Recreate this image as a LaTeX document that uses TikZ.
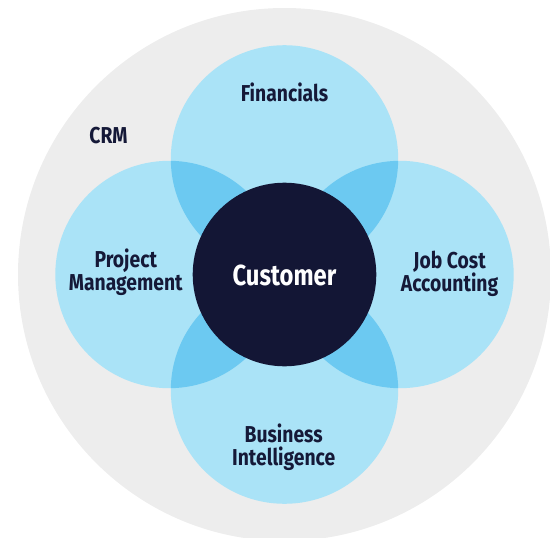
\documentclass[tikz,border=0pt]{standalone}
\usepackage{fontspec}
\newfontfamily\lblfont{Fira Sans}[FakeStretch=0.84]
\newfontfamily\corefont{Fira Sans}[FakeStretch=0.82]
\definecolor{crmgrey}{RGB}{237,237,237}
\definecolor{petal}{RGB}{170,227,247}
\definecolor{petallap}{RGB}{108,201,241}
\definecolor{core}{RGB}{19,22,53}
\definecolor{ink}{RGB}{21,25,56}
\tikzset{
  lbl/.style={text=ink, align=center, inner sep=0pt, anchor=base,
    font=\lblfont\bfseries\fontsize{23}{23.5}\selectfont},
  corelbl/.style={text=white, inner sep=0pt, anchor=base,
    font=\corefont\bfseries\fontsize{29}{32}\selectfont},
}
\begin{document}
\begin{tikzpicture}[x=1pt, y=-1pt]
  \clip (0,0) rectangle (550,538);
  % outer CRM disc
  \fill[crmgrey] (284.5,274.5) circle (266.5);
  % four petals around the centre
  \def\pr{113.7}
  \coordinate (ctop) at (284.5,158.9);
  \coordinate (cleft) at (169.0,274.5);
  \coordinate (cright) at (400.0,274.5);
  \coordinate (cbot) at (284.5,390.1);
  \fill[petal] (ctop) circle (\pr);
  \fill[petal] (cleft) circle (\pr);
  \fill[petal] (cright) circle (\pr);
  \fill[petal] (cbot) circle (\pr);
  % darker lenses where neighbouring petals overlap
  \begin{scope}\clip (ctop) circle (\pr); \fill[petallap] (cleft) circle (\pr); \end{scope}
  \begin{scope}\clip (ctop) circle (\pr); \fill[petallap] (cright) circle (\pr); \end{scope}
  \begin{scope}\clip (cbot) circle (\pr); \fill[petallap] (cleft) circle (\pr); \end{scope}
  \begin{scope}\clip (cbot) circle (\pr); \fill[petallap] (cright) circle (\pr); \end{scope}
  % customer core
  \fill[core] (284.5,274.5) circle (91.8);
  % labels (two-line labels sit on the baseline of their last line)
  \node[corelbl] (customer) at (284.5,285) {Customer};
  \node[lbl] (crm) at (108.5,143.3) {CRM};
  \node[lbl] (fin) at (284.5,101.7) {Financials};
  \node[lbl] (pm) at (125.8,290.7) {Project\\Management};
  \node[lbl] (jca) at (449.6,291.7) {Job Cost\\Accounting};
  \node[lbl] (bi) at (283.7,465.7) {Business\\Intelligence};
\end{tikzpicture}
\end{document}
